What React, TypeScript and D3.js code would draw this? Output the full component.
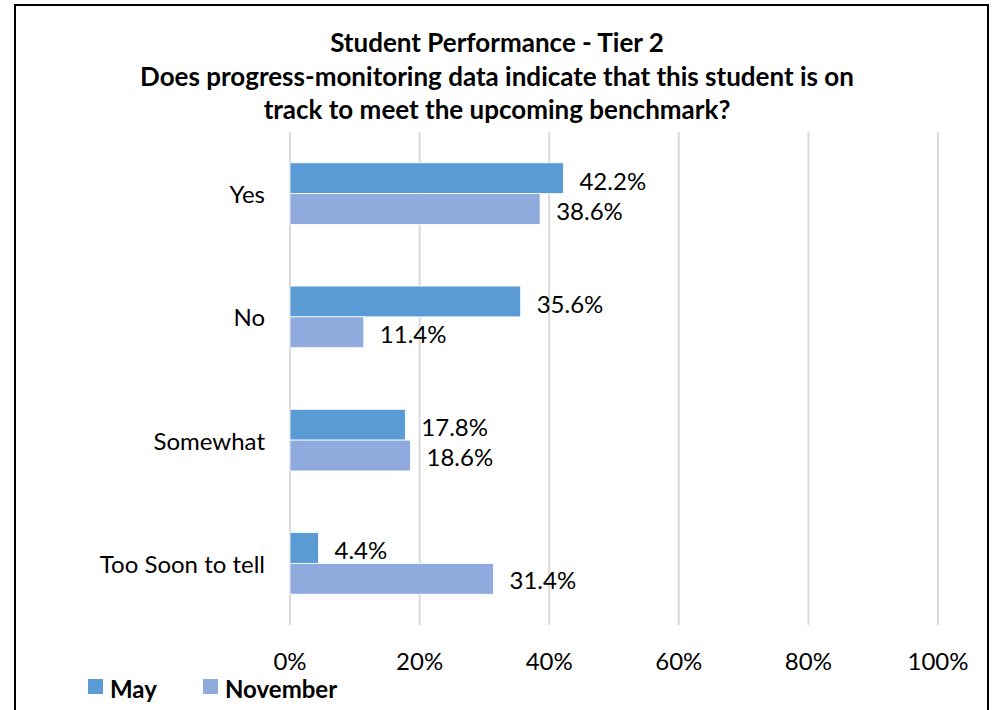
import React, { useEffect, useRef } from "react";
import * as d3 from "d3";

const categories = ["Yes", "No", "Somewhat", "Too Soon to tell"];
const seriesNames = ["May", "November"];
const mayValues = [42.2, 35.6, 17.8, 4.4];
const novemberValues = [38.6, 11.4, 18.6, 31.4];
const xTicks = [0, 20, 40, 60, 80, 100];
const titleLines = [
  "Student Performance - Tier 2",
  "Does progress-monitoring data indicate that this student is on",
  "track to meet the upcoming benchmark?",
];
const colors = ["#5B9BD5", "#8FAADC"];

const FONT = "Lato, 'Open Sans', sans-serif";

const App = () => {
  const ref = useRef<SVGSVGElement>(null);

  useEffect(() => {
    const svg = d3.select(ref.current);
    svg.selectAll("*").remove();

    const left = 290;
    const right = 938;
    const top = 132;
    const bottom = 625;

    const x = d3.scaleLinear().domain([0, 100]).range([left, right]);
    const y = d3.scaleBand().domain(categories).range([top, bottom]);
    const inner = d3
      .scaleBand()
      .domain(seriesNames)
      .range([0, y.bandwidth()])
      .paddingInner(0)
      .paddingOuter(1);

    // outer frame
    svg
      .append("rect")
      .attr("x", 15)
      .attr("y", 5)
      .attr("width", 973)
      .attr("height", 720)
      .attr("fill", "white")
      .attr("stroke", "#000")
      .attr("stroke-width", 2);

    // title
    svg
      .append("g")
      .selectAll("text")
      .data(titleLines)
      .join("text")
      .attr("x", 497)
      .attr("y", (d, i) => 52 + i * 33.5)
      .attr("text-anchor", "middle")
      .attr("font-family", FONT)
      .attr("font-weight", "bold")
      .attr("font-size", 26)
      .attr("fill", "#000")
      .text((d) => d);

    // grid
    svg
      .append("g")
      .selectAll("line")
      .data(xTicks)
      .join("line")
      .attr("x1", (d) => x(d))
      .attr("x2", (d) => x(d))
      .attr("y1", top)
      .attr("y2", bottom)
      .attr("stroke", "#D9D9D9")
      .attr("stroke-width", 2);

    const series = [mayValues, novemberValues];
    series.forEach((vals, s) => {
      const g = svg.append("g");
      g.selectAll("rect")
        .data(vals)
        .join("rect")
        .attr("x", x(0))
        .attr("y", (d, i) => (y(categories[i]) as number) + (inner(seriesNames[s]) as number))
        .attr("width", (d) => x(d) - x(0))
        .attr("height", inner.bandwidth())
        .attr("fill", colors[s])
        .attr("stroke", "#ffffff")
        .attr("stroke-width", 0.8);
      g.selectAll("text")
        .data(vals)
        .join("text")
        .attr("x", (d) => x(d) + 16)
        .attr(
          "y",
          (d, i) =>
            (y(categories[i]) as number) +
            (inner(seriesNames[s]) as number) +
            inner.bandwidth() / 2 +
            (s === 0 ? 2 : 1)
        )
        .attr("dominant-baseline", "central")
        .attr("font-family", FONT)
        .attr("font-size", 24)
        .attr("fill", "#000")
        .text((d) => d.toFixed(1) + "%");
    });

    // category labels
    svg
      .append("g")
      .selectAll("text")
      .data(categories)
      .join("text")
      .attr("x", 265)
      .attr("y", (d) => (y(d) as number) + y.bandwidth() / 2)
      .attr("text-anchor", "end")
      .attr("dominant-baseline", "central")
      .attr("font-family", FONT)
      .attr("font-size", 24)
      .attr("fill", "#000")
      .text((d) => d);

    // x tick labels
    svg
      .append("g")
      .selectAll("text")
      .data(xTicks)
      .join("text")
      .attr("x", (d) => x(d))
      .attr("y", 660)
      .attr("text-anchor", "middle")
      .attr("dominant-baseline", "central")
      .attr("font-family", FONT)
      .attr("font-size", 24)
      .attr("fill", "#000")
      .text((d) => d + "%");

    // legend
    const legendX = [88, 203];
    const lg = svg.append("g");
    seriesNames.forEach((name, i) => {
      lg.append("rect")
        .attr("x", legendX[i])
        .attr("y", 679)
        .attr("width", 15)
        .attr("height", 15)
        .attr("fill", colors[i]);
      lg.append("text")
        .attr("x", legendX[i] + 22)
        .attr("y", 688)
        .attr("dominant-baseline", "central")
        .attr("font-family", FONT)
        .attr("font-weight", "bold")
        .attr("font-size", 24)
        .attr("fill", "#000")
        .text(name);
    });
  }, []);

  return (
    <svg
      ref={ref}
      width={995}
      height={710}
      style={{ position: "absolute", left: 0, top: 0, background: "white" }}
    />
  );
};

export default App;
